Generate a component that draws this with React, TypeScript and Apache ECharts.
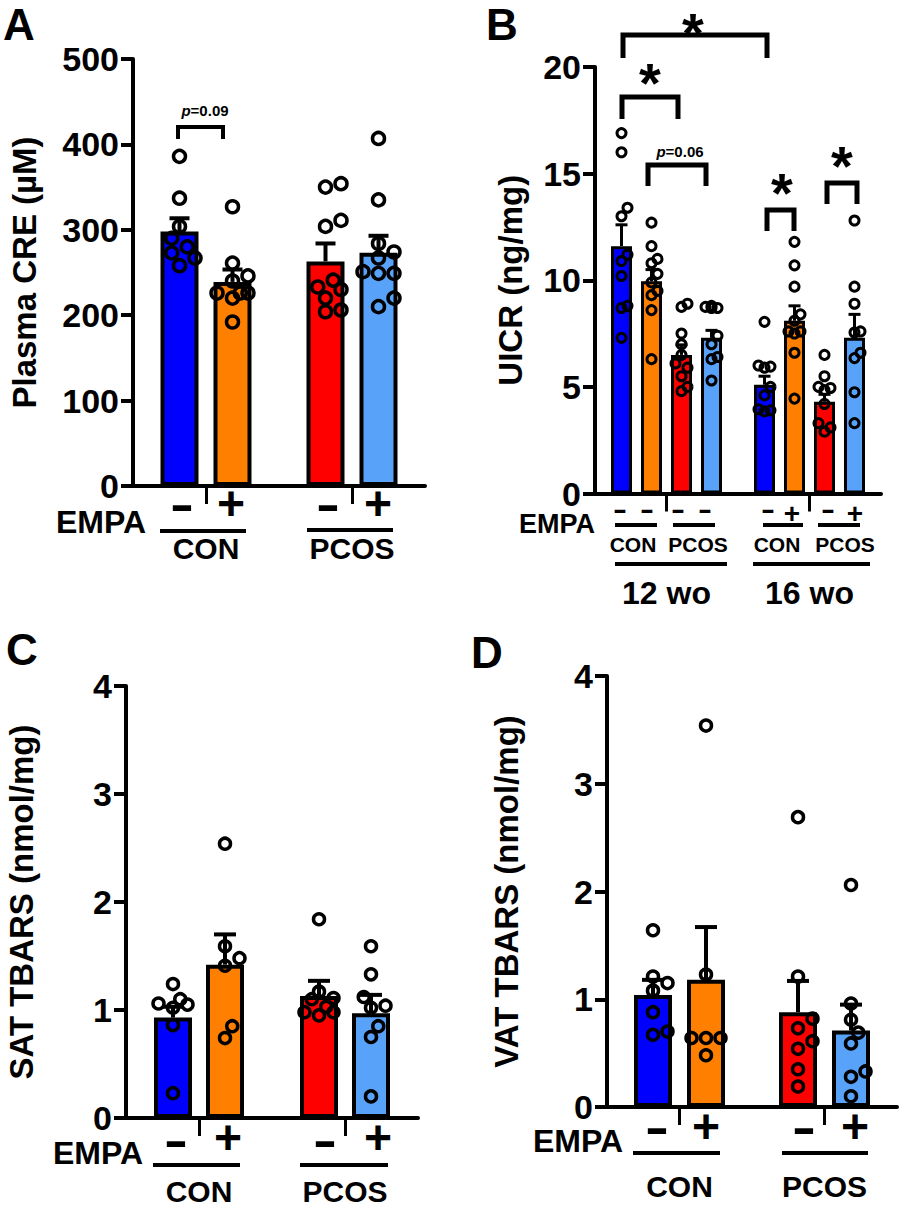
import React, { useEffect, useRef } from "react";
import * as echarts from "echarts";

const FONT = "'Liberation Sans', Arial, Helvetica, sans-serif";
const BLUE = "#0000FF";
const ORANGE = "#FF8000";
const RED = "#FF0000";
const LBLUE = "#58A3F9";

// ---------- Panel A: Plasma CRE (µM) ----------
const aCategories = ["CON", "PCOS"];
const aVehMean = [298, 263];
const aVehSem = [15.5, 21];
const aEmpaMean = [239, 273];
const aEmpaSem = [14.5, 20];
const aConVehPts = [386, 337, 304, 290, 280, 273, 267, 258];
const aConEmpaPts = [327, 261, 246, 240, 226, 226, 226, 220, 192];
const aPcosVehPts = [354, 350, 311, 304, 241, 233, 230, 220, 206, 204];
const aPcosEmpaPts = [407, 335, 284, 274, 267, 251, 249, 249, 220, 210];

// ---------- Panel B: UICR (ng/mg) ----------
const bCategories = ["12 wo", "16 wo"];
const bConVehMean = [11.6, 5.1];
const bConVehSem = [1.0, 0.4];
const bConEmpaMean = [9.95, 8.1];
const bConEmpaSem = [0.55, 0.7];
const bPcosVehMean = [6.5, 4.3];
const bPcosVehSem = [0.47, 0.35];
const bPcosEmpaMean = [7.3, 7.3];
const bPcosEmpaSem = [0.35, 1.1];
const b12ConVehPts = [16.9, 16.0, 13.4, 13.0, 11.2, 10.9, 10.2, 8.8, 8.7, 7.3];
const b12ConEmpaPts = [12.7, 11.6, 11.0, 10.8, 10.3, 9.9, 9.5, 9.3, 8.6, 6.3];
const b12PcosVehPts = [8.9, 8.75, 7.5, 7.0, 6.5, 6.1, 5.9, 5.5, 5.0, 4.8];
const b12PcosEmpaPts = [8.8, 8.75, 8.7, 8.7, 7.4, 7.0, 6.4, 6.3, 5.3];
const b16ConVehPts = [8.05, 6.0, 5.95, 5.9, 5.0, 4.6, 3.95, 3.9, 3.85];
const b16ConEmpaPts = [11.8, 10.7, 9.7, 8.4, 8.1, 7.6, 7.6, 7.5, 6.6, 4.45];
const b16PcosVehPts = [6.5, 5.5, 5.0, 4.95, 4.85, 4.2, 3.3, 3.1, 2.9];
const b16PcosEmpaPts = [12.8, 9.7, 8.9, 7.6, 7.55, 6.6, 6.35, 4.75, 3.3];

// ---------- Panel C: SAT TBARS (nmol/mg) ----------
const cCategories = ["CON", "PCOS"];
const cVehMean = [0.93, 1.13];
const cVehSem = [0.1, 0.14];
const cEmpaMean = [1.42, 0.97];
const cEmpaSem = [0.28, 0.17];
const cConVehPts = [1.24, 1.1, 1.06, 1.05, 1.02, 0.86, 0.23];
const cConEmpaPts = [2.54, 1.59, 1.48, 1.41, 0.85, 0.74];
const cPcosVehPts = [1.84, 1.17, 1.11, 1.1, 1.03, 0.98, 0.98, 0.95];
const cPcosEmpaPts = [1.59, 1.33, 1.12, 1.04, 1.02, 0.85, 0.75, 0.2];

// ---------- Panel D: VAT TBARS (nmol/mg) ----------
const dCategories = ["CON", "PCOS"];
const dVehMean = [1.04, 0.88];
const dVehSem = [0.14, 0.29];
const dEmpaMean = [1.18, 0.71];
const dEmpaSem = [0.49, 0.24];
const dConVehPts = [1.64, 1.21, 1.15, 1.08, 0.88, 0.7, 0.67];
const dConEmpaPts = [3.54, 1.23, 0.64, 0.64, 0.64, 0.48];
const dPcosVehPts = [2.69, 1.21, 0.82, 0.73, 0.61, 0.54, 0.35, 0.19];
const dPcosEmpaPts = [2.06, 0.96, 0.81, 0.69, 0.59, 0.33, 0.28, 0.1];

interface Group {
  name: string;
  colors: string[];
  mean: number[];
  sem: number[];
  pts: number[][];
}
interface Panel {
  cats: string[];
  groups: Group[];
  barW: number;
  border: number;
  pitch: number;
  r: number;
  dotW: number;
  errW: number;
  cap: number;
}

const panels: Panel[] = [
  {
    cats: aCategories,
    groups: [
      { name: "EMPA -", colors: [BLUE, RED], mean: aVehMean, sem: aVehSem, pts: [aConVehPts, aPcosVehPts] },
      { name: "EMPA +", colors: [ORANGE, LBLUE], mean: aEmpaMean, sem: aEmpaSem, pts: [aConEmpaPts, aPcosEmpaPts] },
    ],
    barW: 38, border: 4, pitch: 53, r: 6, dotW: 3.5, errW: 4, cap: 10,
  },
  {
    cats: bCategories,
    groups: [
      { name: "CON", colors: [BLUE, BLUE], mean: bConVehMean, sem: bConVehSem, pts: [b12ConVehPts, b16ConVehPts] },
      { name: "CON EMPA", colors: [ORANGE, ORANGE], mean: bConEmpaMean, sem: bConEmpaSem, pts: [b12ConEmpaPts, b16ConEmpaPts] },
      { name: "PCOS", colors: [RED, RED], mean: bPcosVehMean, sem: bPcosVehSem, pts: [b12PcosVehPts, b16PcosVehPts] },
      { name: "PCOS EMPA", colors: [LBLUE, LBLUE], mean: bPcosEmpaMean, sem: bPcosEmpaSem, pts: [b12PcosEmpaPts, b16PcosEmpaPts] },
    ],
    barW: 21, border: 3, pitch: 30, r: 4.5, dotW: 3, errW: 3, cap: 6,
  },
  {
    cats: cCategories,
    groups: [
      { name: "EMPA -", colors: [BLUE, RED], mean: cVehMean, sem: cVehSem, pts: [cConVehPts, cPcosVehPts] },
      { name: "EMPA +", colors: [ORANGE, LBLUE], mean: cEmpaMean, sem: cEmpaSem, pts: [cConEmpaPts, cPcosEmpaPts] },
    ],
    barW: 38, border: 4, pitch: 52, r: 5.5, dotW: 3.5, errW: 4, cap: 11,
  },
  {
    cats: dCategories,
    groups: [
      { name: "EMPA -", colors: [BLUE, RED], mean: dVehMean, sem: dVehSem, pts: [dConVehPts, dPcosVehPts] },
      { name: "EMPA +", colors: [ORANGE, LBLUE], mean: dEmpaMean, sem: dEmpaSem, pts: [dConEmpaPts, dPcosEmpaPts] },
    ],
    barW: 38, border: 4, pitch: 53, r: 5.5, dotW: 3.5, errW: 4, cap: 11,
  },
];

const grids = [
  { left: 133, top: 59, width: 292, height: 427 },
  { left: 595, top: 67, width: 286, height: 426.5 },
  { left: 126, top: 686, width: 292, height: 432 },
  { left: 607, top: 676, width: 290, height: 431 },
];

const yAxes = [
  { max: 500, interval: 100, name: "Plasma CRE (µM)", gap: 92 },
  { max: 20, interval: 5, name: "UICR (ng/mg)", gap: 68 },
  { max: 4, interval: 1, name: "SAT TBARS (nmol/mg)", gap: 88 },
  { max: 4, interval: 1, name: "VAT TBARS (nmol/mg)", gap: 84 },
];
const xLabel = [
  { margin: 47, size: 30 },
  { margin: 83, size: 32 },
  { margin: 58, size: 30 },
  { margin: 64, size: 30 },
];

// simple beeswarm layout in pixel space
function swarm(ys: number[], minDist: number, step: number, maxOff: number): number[] {
  const order = ys.map((_, i) => i).sort((a, b) => ys[b] - ys[a]);
  const placed: { x: number; y: number }[] = [];
  const xs = new Array(ys.length).fill(0);
  const cands: number[] = [0];
  for (let k = 1; k * step <= maxOff + 0.01; k++) cands.push(k * step, -k * step);
  for (const i of order) {
    let best = 0;
    let bestScore = -Infinity;
    for (const c of cands) {
      let md = Infinity;
      for (const p of placed) md = Math.min(md, Math.hypot(p.x - c, p.y - ys[i]));
      if (md >= minDist) {
        best = c;
        break;
      }
      if (md > bestScore) {
        bestScore = md;
        best = c;
      }
    }
    xs[i] = best;
    placed.push({ x: best, y: ys[i] });
  }
  return xs;
}

const txt = (x: number, y: number, text: string, size: number, extra: any = {}) => ({
  type: "text",
  x,
  y,
  scaleX: extra.scaleX ?? 1,
  style: {
    text,
    fontSize: size,
    fontWeight: "bold",
    fontFamily: FONT,
    fill: "#000",
    align: "center",
    verticalAlign: "middle",
    ...(extra.style || {}),
  },
  z: 10,
});
const hline = (x1: number, x2: number, y: number, w = 4) => ({
  type: "line",
  shape: { x1, y1: y, x2, y2: y },
  style: { stroke: "#000", lineWidth: w },
  z: 10,
});
const bracket = (x1: number, x2: number, yTop: number, yBot: number, w: number) => ({
  type: "polyline",
  shape: { points: [[x1, yBot], [x1, yTop], [x2, yTop], [x2, yBot]] },
  style: { stroke: "#000", lineWidth: w, fill: null, lineJoin: "miter" },
  z: 10,
});
const minus = (x: number, y: number, size: number) => txt(x, y, "-", size, { scaleX: 1.5 });
const plus = (x: number, y: number, size: number) => txt(x, y, "+", size);
const star = (x: number, y: number) => txt(x, y + 12, "*", 56);
const pText = (x: number, y: number, v: string) => ({
  type: "text",
  x,
  y,
  style: {
    text: `{i|p}{b|=${v}}`,
    align: "center",
    verticalAlign: "middle",
    fill: "#000",
    rich: {
      i: { fontSize: 15, fontStyle: "italic", fontWeight: "bold", fontFamily: FONT, fill: "#000" },
      b: { fontSize: 15, fontWeight: "bold", fontFamily: FONT, fill: "#000" },
    },
  },
  z: 10,
});

function buildOption(): any {
  const series: any[] = [];
  panels.forEach((p, gi) => {
    const n = p.groups.length;
    p.groups.forEach((g, si) => {
      const off = (si - (n - 1) / 2) * p.pitch;
      series.push({
        type: "bar",
        name: g.name,
        xAxisIndex: gi,
        yAxisIndex: gi,
        barWidth: p.barW,
        barGap: ((p.pitch - p.barW) / p.barW) * 100 + "%",
        z: 2,
        data: g.mean.map((m, i) => ({
          value: m,
          itemStyle: { color: g.colors[i], borderColor: "#000", borderWidth: p.border },
        })),
      });
      series.push({
        type: "custom",
        name: g.name + " SEM",
        xAxisIndex: gi,
        yAxisIndex: gi,
        z: 3,
        data: g.mean.map((m, i) => [i, m, g.sem[i]]),
        encode: { x: 0, y: 1 },
        renderItem: (_params: any, api: any) => {
          const cat = api.value(0);
          const m = api.value(1);
          const s = api.value(2);
          const base = api.coord([cat, m]);
          const top = api.coord([cat, m + s]);
          const x = base[0] + off;
          const st = { stroke: "#000", lineWidth: p.errW };
          return {
            type: "group",
            children: [
              { type: "line", shape: { x1: x, y1: base[1], x2: x, y2: top[1] }, style: st },
              { type: "line", shape: { x1: x - p.cap, y1: top[1], x2: x + p.cap, y2: top[1] }, style: st },
            ],
          };
        },
      });
      series.push({
        type: "custom",
        name: g.name + " points",
        xAxisIndex: gi,
        yAxisIndex: gi,
        z: 4,
        data: g.pts.map((pts, i) => [i, Math.max(...pts)]),
        encode: { x: 0, y: 1 },
        renderItem: (params: any, api: any) => {
          const cat = api.value(0);
          const pts = g.pts[params.dataIndex];
          const cx = api.coord([cat, 0])[0] + off;
          const ys = pts.map((v) => api.coord([cat, v])[1]);
          const outer = 2 * p.r + p.dotW;
          const xs = swarm(ys, outer * 0.85, outer * 0.5, p.barW / 2 + p.border / 2 - p.r + 2);
          return {
            type: "group",
            children: ys.map((y, k) => ({
              type: "circle",
              shape: { cx: cx + xs[k], cy: y, r: p.r },
              style: { fill: "none", stroke: "#000", lineWidth: p.dotW },
            })),
          };
        },
      });
    });
  });

  const graphic: any[] = [
    // panel letters
    txt(19, 24, "A", 44),
    txt(502, 24, "B", 44),
    txt(22, 649, "C", 44),
    txt(487, 652, "D", 44),

    // ---- Panel A labels ----
    txt(101, 522, "EMPA", 32),
    minus(182, 505, 48),
    plus(231, 503, 48),
    minus(328, 505, 48),
    plus(378, 503, 48),
    hline(160, 246, 531),
    hline(307, 393, 530),
    bracket(178, 223, 127, 139, 4),
    pText(205, 110, "0.09"),

    // ---- Panel B labels ----
    txt(557, 524, "EMPA", 27),
    minus(620, 510, 28),
    minus(647, 510, 28),
    minus(678, 510, 28),
    minus(705, 510, 28),
    minus(768, 510, 28),
    plus(792, 513, 28),
    minus(828, 510, 28),
    plus(855, 513, 28),
    hline(615, 657, 525),
    hline(673, 715, 525),
    hline(763, 803, 525),
    hline(818, 860, 525),
    txt(633, 544, "CON", 21),
    txt(698, 544, "PCOS", 21),
    txt(777, 544, "CON", 21),
    txt(845, 544, "PCOS", 21),
    hline(615, 727, 564),
    hline(753, 870, 564),
    bracket(623, 767, 35, 58, 5),
    star(693, 20),
    bracket(622, 678, 97, 119, 5),
    star(650, 70),
    bracket(648, 706, 165, 186, 5),
    pText(680, 151, "0.06"),
    bracket(767, 794, 210, 231, 5),
    star(782, 180),
    bracket(827, 857, 183, 204, 5),
    star(842, 153),

    // ---- Panel C labels ----
    txt(98, 1153, "EMPA", 32),
    minus(176, 1141, 48),
    plus(228, 1137, 48),
    minus(325, 1141, 48),
    plus(378, 1137, 48),
    hline(153, 240, 1165),
    hline(300, 388, 1165),

    // ---- Panel D labels ----
    txt(578, 1141, "EMPA", 32),
    minus(657, 1128, 48),
    plus(706, 1126, 48),
    minus(804, 1128, 48),
    plus(855, 1126, 48),
    hline(633, 720, 1153),
    hline(782, 868, 1153),
  ];

  return {
    animation: false,
    backgroundColor: "#fff",
    textStyle: { fontFamily: FONT },
    grid: grids.map((g) => ({ ...g, containLabel: false })),
    xAxis: panels.map((p, gi) => ({
      type: "category",
      gridIndex: gi,
      data: p.cats,
      axisLine: { show: true, lineStyle: { color: "#000", width: 4 } },
      axisTick: { show: true, alignWithLabel: true, length: 18, lineStyle: { color: "#000", width: 3 } },
      axisLabel: {
        fontSize: xLabel[gi].size,
        lineHeight: xLabel[gi].size,
        fontWeight: "bold",
        fontFamily: FONT,
        color: "#000",
        margin: xLabel[gi].margin,
      },
      splitLine: { show: false },
    })),
    yAxis: yAxes.map((y, gi) => ({
      type: "value",
      gridIndex: gi,
      min: 0,
      max: y.max,
      interval: y.interval,
      name: y.name,
      nameLocation: "middle",
      nameGap: y.gap,
      nameTextStyle: { fontSize: 33, fontWeight: "bold", fontFamily: FONT, color: "#000" },
      axisLine: { show: true, lineStyle: { color: "#000", width: 4 } },
      axisTick: { show: true, length: 12, lineStyle: { color: "#000", width: 4 } },
      axisLabel: { fontSize: 34, lineHeight: 30, fontWeight: "bold", fontFamily: FONT, color: "#000", margin: 14 },
      splitLine: { show: false },
    })),
    series,
    graphic,
  };
}

export default function App() {
  const ref = useRef<HTMLDivElement>(null);
  useEffect(() => {
    document.body.style.margin = "0";
    const chart = echarts.init(ref.current!, undefined, { renderer: "svg" });
    chart.setOption(buildOption());
    return () => chart.dispose();
  }, []);
  return <div ref={ref} style={{ width: 904, height: 1212, background: "#fff" }} />;
}
